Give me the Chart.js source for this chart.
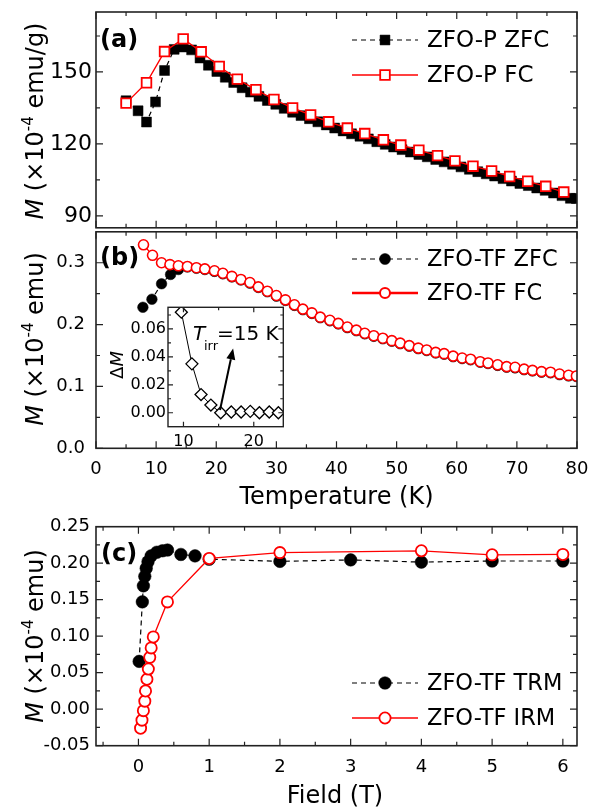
<!DOCTYPE html>
<html><head><meta charset="utf-8">
<script src="https://cdn.jsdelivr.net/npm/chart.js@4.4.0/dist/chart.umd.min.js"></script>
<style>
html,body{margin:0;padding:0;background:#fff;}
#fig{position:relative;width:601px;height:810px;background:#fff;overflow:hidden;}
#fig canvas{position:absolute;}
</style></head><body>
<div id="fig">
<canvas id="cA"></canvas>
<canvas id="cB"></canvas>
<canvas id="cC"></canvas>
<canvas id="cI"></canvas>
</div>
<script>
// ---------- data ----------
// Panel (a): ZFO-P, M (x1e-4 emu/g) vs T (K)
const aZfcT = [5.0,7.0,8.4,9.9,11.4,13.0,14.5,15.9,17.3,18.7,20.1,21.5,22.9,24.3,25.7,27.1,28.5,29.9,31.3,32.7,34.1,35.5,36.9,38.3,39.7,41.1,42.5,43.9,45.3,46.7,48.1,49.5,50.9,52.3,53.7,55.1,56.5,57.9,59.3,60.7,62.1,63.5,64.9,66.3,67.7,69.1,70.5,71.9,73.3,74.7,76.1,77.5,78.9,79.9];
const aZfcM = [138.0,133.8,129.1,137.5,150.6,159.4,160.4,159.2,155.8,152.8,150.2,147.8,145.6,143.4,141.6,139.8,138.1,136.5,134.8,133.2,131.8,130.5,129.2,127.9,126.6,125.4,124.2,123.2,122.1,120.9,119.8,118.7,117.6,116.6,115.6,114.6,113.5,112.5,111.5,110.4,109.4,108.4,107.5,106.6,105.5,104.5,103.5,102.6,101.6,100.6,99.5,98.4,97.3,97.2];
const aFcT = [5.0,8.4,11.4,14.5,17.5,20.5,23.5,26.6,29.6,32.7,35.7,38.7,41.8,44.7,47.8,50.7,53.7,56.8,59.7,62.7,65.8,68.8,71.8,74.8,77.8];
const aFcM = [137.0,145.5,158.5,163.8,158.4,152.3,147.0,142.6,138.5,135.0,132.1,129.2,126.6,124.3,121.7,119.5,117.4,115.1,112.9,110.7,108.7,106.4,104.4,102.3,99.9];

// Panel (b): ZFO-TF, M (x1e-4 emu) vs T (K)
const bZfcT = [7.8,9.3,10.9,12.4,13.7,15.2,16.7,18.1,19.7,21.1,22.6,24.1,25.6,27.0,28.5,30.0,31.5,33.0,34.4,35.9,37.3,38.9,40.3,41.8,43.3,44.7,46.2,47.7,49.2,50.6,52.1,53.6,55.0,56.5,57.9,59.4,60.9,62.3,63.9,65.2,66.8,68.3,69.7,71.2,72.6,74.1,75.6,77.1,78.6,79.9];
const bZfcM = [0.228,0.241,0.266,0.281,0.289,0.293,0.291,0.289,0.286,0.282,0.277,0.272,0.267,0.260,0.253,0.246,0.239,0.231,0.224,0.218,0.211,0.206,0.201,0.195,0.190,0.185,0.181,0.177,0.173,0.169,0.165,0.161,0.158,0.154,0.152,0.148,0.145,0.143,0.139,0.137,0.134,0.131,0.130,0.127,0.125,0.123,0.122,0.119,0.117,0.116];
const bFcT = [7.9,9.4,10.9,12.3,13.7,15.2,16.7,18.1,19.7,21.1,22.6,24.1,25.6,27.0,28.5,30.0,31.5,33.0,34.4,35.9,37.3,38.9,40.3,41.8,43.3,44.7,46.2,47.7,49.2,50.6,52.1,53.6,55.0,56.5,57.9,59.4,60.9,62.3,63.9,65.2,66.8,68.3,69.7,71.2,72.6,74.1,75.6,77.1,78.6,79.9];
const bFcM = [0.329,0.312,0.300,0.297,0.295,0.294,0.292,0.290,0.287,0.283,0.278,0.273,0.268,0.261,0.254,0.247,0.240,0.232,0.225,0.219,0.212,0.207,0.202,0.196,0.191,0.186,0.182,0.178,0.174,0.170,0.166,0.162,0.159,0.155,0.153,0.149,0.146,0.144,0.140,0.138,0.135,0.132,0.131,0.128,0.126,0.124,0.123,0.120,0.118,0.117];

// Inset: delta M vs T
const insT  = [9.7,11.2,12.5,13.9,15.3,16.8,18.2,19.5,20.8,22.2,23.5];
const insDM = [0.072,0.035,0.013,0.0055,0.0,0.0005,0.0005,0.001,0.0,0.0005,0.0];

// Panel (c): ZFO-TF remanence vs field (T)
const cTrmH = [0.01,0.055,0.07,0.09,0.11,0.135,0.18,0.26,0.34,0.41,0.6,0.8,1,2,3,4,5,6];
const cTrmM = [0.0655,0.147,0.169,0.182,0.193,0.202,0.21,0.215,0.217,0.218,0.212,0.21,0.2055,0.2025,0.2045,0.2015,0.203,0.203];
const cIrmH = [0.03,0.05,0.07,0.09,0.10,0.12,0.14,0.16,0.18,0.21,0.41,1,2,4,5,6];
const cIrmM = [-0.026,-0.015,-0.002,0.011,0.025,0.041,0.055,0.071,0.084,0.099,0.147,0.2065,0.2145,0.217,0.2115,0.212];

// tick values
const tempTicks  = [0,10,20,30,40,50,60,70,80];
const tempMinor  = [5,15,25,35,45,55,65,75];
const aYTicks = [90,120,150];
const aYMinor = [105,135,165];
const bYTicks = [0,0.1,0.2,0.3];
const bYMinor = [0.05,0.15,0.25];
const insXTicks = [10,20];
const insXMinor = [15];
const insYTicks = [0,0.02,0.04,0.06];
const insYMinor = [0.01,0.03,0.05,0.07];
const fieldTicks = [0,1,2,3,4,5,6];
const fieldMinor = [-0.5,0.5,1.5,2.5,3.5,4.5,5.5];
const cYTicks = [-0.05,0,0.05,0.10,0.15,0.20,0.25];
const cYMinor = [-0.025,0.025,0.075,0.125,0.175,0.225];

// ---------- helpers ----------
const FONT = "'DejaVu Sans', sans-serif";
const RED = '#ff0000';
const pts = (xs, ys) => xs.map((v, i) => ({x: v, y: ys[i]}));

function legendRow(c, y, s, label, size) {
  const x1 = 352, x2 = 418, xm = 385;
  c.save();
  c.strokeStyle = s.color; c.lineWidth = s.lw; c.setLineDash(s.dash || []);
  c.beginPath(); c.moveTo(x1, y); c.lineTo(x2, y); c.stroke();
  c.setLineDash([]);
  c.fillStyle = s.fill; c.strokeStyle = s.color; c.lineWidth = s.bw;
  Chart.helpers.drawPoint(c, {pointStyle: s.ps, radius: s.r, borderWidth: s.bw, rotation: 0}, xm, y);
  c.fillStyle = '#000'; c.font = (size || 22) + 'px ' + FONT;
  c.textBaseline = 'middle'; c.textAlign = 'left';
  c.fillText(label, 427, y + 1);
  c.restore();
}

function yTitle(c, cx, cy, parts) {
  c.save();
  c.translate(cx, cy); c.rotate(-Math.PI / 2);
  c.fillStyle = '#000'; c.textBaseline = 'alphabetic'; c.textAlign = 'left';
  let total = 0;
  parts.forEach(p => { c.font = p.f; p.w = c.measureText(p.t).width; total += p.w; });
  let x = -total / 2;
  parts.forEach(p => { c.font = p.f; c.fillText(p.t, x, p.dy || 0); x += p.w; });
  c.restore();
}
function mTitle(unit) {
  return [
    {t: 'M', f: 'italic 24px ' + FONT},
    {t: ' (\u00d710', f: '24px ' + FONT},
    {t: '-4', f: '15px ' + FONT, dy: -10},
    {t: ' ' + unit + ')', f: '24px ' + FONT}
  ];
}
function text(c, t, x, y, font, align, base) {
  c.save(); c.fillStyle = '#000'; c.font = font;
  c.textAlign = align || 'left'; c.textBaseline = base || 'alphabetic';
  c.fillText(t, x, y); c.restore();
}

function mk(id, o) {
  const cv = document.getElementById(id);
  cv.width = o.w; cv.height = o.h;
  Object.assign(cv.style, {left: o.x + 'px', top: o.y + 'px', width: o.w + 'px', height: o.h + 'px'});
  const L = o.area[0] - o.x, T = o.area[1] - o.y, R = o.area[2] - o.x, B = o.area[3] - o.y;
  const mj = o.mj || 7, mn = o.mn || 4;
  const plugin = {
    id: 'decor_' + id,
    beforeDatasetsDraw(chart) {
      if (!o.whiteBg) return;
      const a = chart.chartArea, c = chart.ctx;
      c.save(); c.fillStyle = '#fff'; c.fillRect(a.left, a.top, a.right - a.left, a.bottom - a.top); c.restore();
    },
    afterDraw(chart) {
      const c = chart.ctx, a = chart.chartArea, xs = chart.scales.x, ys = chart.scales.y;
      c.save();
      c.strokeStyle = '#222'; c.lineWidth = 1.2; c.setLineDash([]);
      c.beginPath();
      const vx = (vals, len) => vals.forEach(v => { const p = xs.getPixelForValue(v);
        c.moveTo(p, a.bottom); c.lineTo(p, a.bottom - len); c.moveTo(p, a.top); c.lineTo(p, a.top + len); });
      const vy = (vals, len) => vals.forEach(v => { const p = ys.getPixelForValue(v);
        c.moveTo(a.left, p); c.lineTo(a.left + len, p); c.moveTo(a.right, p); c.lineTo(a.right - len, p); });
      vx(o.xMajor, mj); vx(o.xMinor, mn); vy(o.yMajor, mj); vy(o.yMinor, mn);
      c.stroke();
      c.lineWidth = o.frameW || 1.6;
      c.strokeRect(a.left, a.top, a.right - a.left, a.bottom - a.top);
      c.translate(-o.x, -o.y);
      if (o.draw) o.draw(c, chart);
      c.restore();
    }
  };
  return new Chart(cv, {
    type: 'line',
    data: {datasets: o.datasets},
    options: {
      responsive: false, animation: false, devicePixelRatio: 1,
      layout: {padding: {left: 0, top: T, right: o.w - R, bottom: 0}},
      plugins: {legend: {display: false}, tooltip: {enabled: false}},
      elements: {line: {tension: 0, fill: false}},
      scales: {
        x: {type: 'linear', min: o.xr[0], max: o.xr[1],
          afterFit: s => { s.height = o.h - B; },
          afterBuildTicks: s => { s.ticks = o.xMajor.map(v => ({value: v})); },
          grid: {display: false, drawTicks: false}, border: {display: false},
          ticks: {display: o.xLabels !== false, autoSkip: false, maxRotation: 0, minRotation: 0,
            padding: o.xPad || 10, color: '#000', font: {family: FONT, size: o.xFont || 18},
            callback: v => o.xFmt(v)}},
        y: {type: 'linear', min: o.yr[0], max: o.yr[1],
          afterFit: s => { s.width = L; },
          afterBuildTicks: s => { s.ticks = o.yMajor.map(v => ({value: v})); },
          grid: {display: false, drawTicks: false}, border: {display: false},
          ticks: {autoSkip: false, padding: o.yPad || 6, color: '#000', font: {family: FONT, size: o.yFont || 18},
            callback: v => o.yFmt(v)}}
      }
    },
    plugins: [plugin]
  });
}

// ---------- panel (a) ----------
mk('cA', {
  x: 0, y: -10, w: 601, h: 255, area: [96, 12, 577, 230],
  xr: [0, 80], yr: [85, 175],
  xMajor: tempTicks, xMinor: tempMinor, yMajor: aYTicks, yMinor: aYMinor,
  xLabels: false, xFmt: v => v.toFixed(0), yFmt: v => v.toFixed(0), yFont: 22, yPad: 4,
  datasets: [
    {data: pts(aFcT, aFcM), borderColor: RED, borderWidth: 1.3, pointStyle: 'rect', pointRadius: 6.8,
     pointBorderWidth: 1.8, pointBorderColor: RED, pointBackgroundColor: '#fff'},
    {data: pts(aZfcT, aZfcM), borderColor: '#000', borderWidth: 1.2, borderDash: [5, 4], pointStyle: 'rect', pointRadius: 7,
     pointBorderWidth: 0.5, pointBorderColor: '#000', pointBackgroundColor: '#000'}
  ],
  draw(c) {
    legendRow(c, 40, {color: '#000', lw: 1.2, dash: [5, 4], fill: '#000', ps: 'rect', r: 7, bw: 0.5}, 'ZFO-P ZFC', 23);
    legendRow(c, 75, {color: RED, lw: 1.5, fill: '#fff', ps: 'rect', r: 6.8, bw: 1.8}, 'ZFO-P FC', 23);
    text(c, '(a)', 100, 41, 'bold 24px ' + FONT, 'left', 'middle');
    yTitle(c, 43, 121, mTitle('emu/g'));
  }
});

// ---------- panel (b) ----------
mk('cB', {
  x: 0, y: 210, w: 601, h: 310, area: [96, 230, 577, 448.3],
  xr: [0, 80], yr: [0, 0.35],
  xMajor: tempTicks, xMinor: tempMinor, yMajor: bYTicks, yMinor: bYMinor,
  xFmt: v => v.toFixed(0), yFmt: v => v.toFixed(1), xFont: 18, yFont: 18, xPad: 10, yPad: 11,
  datasets: [
    {data: pts(bFcT, bFcM), borderColor: RED, borderWidth: 1.3, pointStyle: 'circle', pointRadius: 5,
     pointBorderWidth: 1.6, pointBorderColor: RED, pointBackgroundColor: '#fff'},
    {data: pts(bZfcT, bZfcM), borderColor: '#000', borderWidth: 1.2, borderDash: [5, 4], pointStyle: 'circle', pointRadius: 5.3,
     pointBorderWidth: 0.5, pointBorderColor: '#000', pointBackgroundColor: '#000'}
  ],
  draw(c) {
    legendRow(c, 259, {color: '#000', lw: 1.2, dash: [5, 4], fill: '#000', ps: 'circle', r: 5.5, bw: 0.5}, 'ZFO-TF ZFC', 22.5);
    legendRow(c, 293, {color: RED, lw: 2.6, fill: '#fff', ps: 'circle', r: 5, bw: 2}, 'ZFO-TF FC', 22.5);
    text(c, '(b)', 100, 259, 'bold 24px ' + FONT, 'left', 'middle');
    yTitle(c, 43, 339, mTitle('emu'));
    text(c, 'Temperature (K)', 336.5, 504, '24px ' + FONT, 'center', 'alphabetic');
  }
});

// ---------- inset ----------
mk('cI', {
  x: 90, y: 290, w: 210, h: 165, area: [168, 307.3, 283.3, 426.7],
  xr: [7.8, 24.2], yr: [-0.01, 0.0755], whiteBg: true, mj: 5, mn: 3, frameW: 1.4,
  xMajor: insXTicks, xMinor: insXMinor, yMajor: insYTicks, yMinor: insYMinor,
  xFmt: v => v.toFixed(0), yFmt: v => v.toFixed(2), xFont: 16, yFont: 16, xPad: 6, yPad: 2,
  datasets: [
    {data: pts(insT, insDM), borderColor: '#000', borderWidth: 1, pointStyle: 'rectRot', pointRadius: 6,
     pointBorderWidth: 1.3, pointBorderColor: '#000', pointBackgroundColor: '#fff'}
  ],
  draw(c, chart) {
    const xs = chart.scales.x, ys = chart.scales.y;
    const x0 = xs.getPixelForValue(15.2) + 90, y0 = ys.getPixelForValue(0.002) + 290;
    const x1 = xs.getPixelForValue(17.06) + 90, y1 = ys.getPixelForValue(0.046) + 290;
    const ang = Math.atan2(y1 - y0, x1 - x0), hl = 11, hw = 4.5;
    const bx = x1 - hl * Math.cos(ang), by = y1 - hl * Math.sin(ang);
    c.save();
    c.strokeStyle = '#000'; c.fillStyle = '#000'; c.lineWidth = 2;
    c.beginPath(); c.moveTo(x0, y0); c.lineTo(bx, by); c.stroke();
    c.beginPath(); c.moveTo(x1, y1);
    c.lineTo(bx + hw * Math.sin(ang), by - hw * Math.cos(ang));
    c.lineTo(bx - hw * Math.sin(ang), by + hw * Math.cos(ang));
    c.closePath(); c.fill();
    c.restore();
    text(c, 'T', 193, 340, 'italic 20px ' + FONT);
    text(c, 'irr', 204, 350, '13px ' + FONT);
    text(c, '=15 K', 217, 340, '20px ' + FONT);
    yTitle(c, 123, 365, [
      {t: '\u0394', f: '18px ' + FONT},
      {t: 'M', f: 'italic 18px ' + FONT}
    ]);
  }
});

// ---------- panel (c) ----------
mk('cC', {
  x: 0, y: 505, w: 601, h: 305, area: [96, 526.7, 577, 745.7],
  xr: [-0.6, 6.2], yr: [-0.05, 0.25],
  xMajor: fieldTicks, xMinor: fieldMinor, yMajor: cYTicks, yMinor: cYMinor,
  xFmt: v => v.toFixed(0), yFmt: v => v.toFixed(2), xFont: 18, yFont: 18, xPad: 11, yPad: 6,
  datasets: [
    {data: pts(cIrmH, cIrmM), borderColor: RED, borderWidth: 1.3, pointStyle: 'circle', pointRadius: 5.6,
     pointBorderWidth: 1.8, pointBorderColor: RED, pointBackgroundColor: '#fff'},
    {data: pts(cTrmH, cTrmM), borderColor: '#000', borderWidth: 1.2, borderDash: [5, 4], pointStyle: 'circle', pointRadius: 6.3,
     pointBorderWidth: 0.5, pointBorderColor: '#000', pointBackgroundColor: '#000'}
  ],
  draw(c) {
    legendRow(c, 683, {color: '#000', lw: 1.2, dash: [5, 4], fill: '#000', ps: 'circle', r: 6.3, bw: 0.5}, 'ZFO-TF TRM', 22.5);
    legendRow(c, 718, {color: RED, lw: 1.3, fill: '#fff', ps: 'circle', r: 5.6, bw: 1.8}, 'ZFO-TF IRM', 22.5);
    text(c, '(c)', 101, 555, 'bold 24px ' + FONT, 'left', 'middle');
    yTitle(c, 43, 636, mTitle('emu'));
    text(c, 'Field (T)', 335, 803, '24px ' + FONT, 'center', 'alphabetic');
  }
});
</script>
</body></html>
